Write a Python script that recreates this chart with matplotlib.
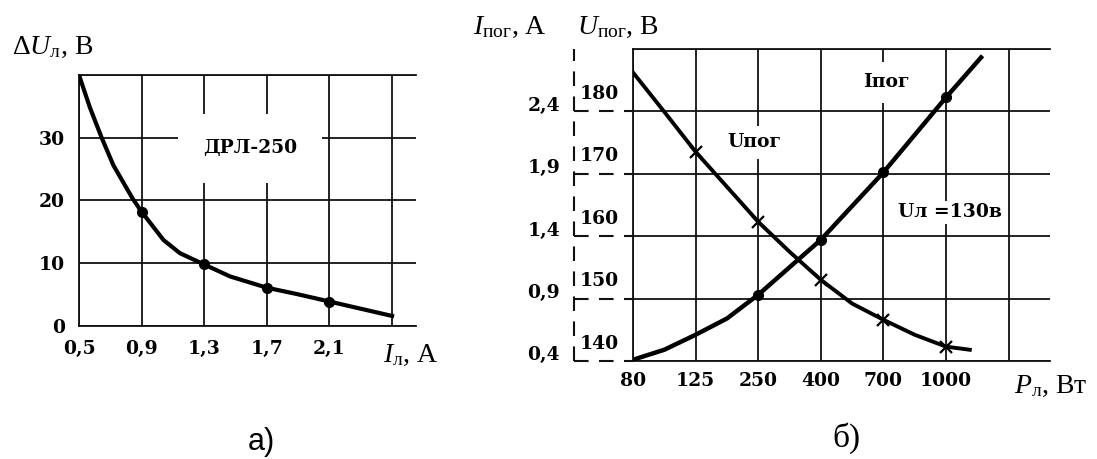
import matplotlib
matplotlib.use('Agg')
import matplotlib.pyplot as plt
import matplotlib.transforms as mtransforms

plt.rcParams['mathtext.fontset'] = 'custom'
plt.rcParams['mathtext.rm'] = 'Liberation Serif'
plt.rcParams['mathtext.it'] = 'Liberation Serif:italic'

# а) ДРЛ-250: падение напряжения на лампе от тока
i_lamp = [0.5, 0.57, 0.645, 0.72, 0.843, 0.9, 1.04, 1.145, 1.3, 1.465, 1.7, 1.89, 2.1, 2.5]
du_lamp = [40, 34.8, 30, 25.6, 20.3, 18.2, 13.7, 11.6, 9.8, 7.9, 6.1, 5.1, 3.9, 1.6]
lamp_dots = [5, 8, 10, 12]

a_xticks = [0.5, 0.9, 1.3, 1.7, 2.1, 2.5]
a_xlabels = ['0,5', '0,9', '1,3', '1,7', '2,1', '']
a_yticks = [0, 10, 20, 30, 40]
a_ylabels = ['0', '10', '20', '30', '']

# б) ток и напряжение сети от мощности лампы (Uл = 130 В)
power_labels = ['80', '125', '250', '400', '700', '1000', '']
i_ticks = [0.4, 0.9, 1.4, 1.9, 2.4]
i_labels = ['0,4', '0,9', '1,4', '1,9', '2,4']
u_ticks = [140, 150, 160, 170, 180]

pos_i = [0, 0.5, 1, 1.5, 2, 3, 4, 5, 5.56]
i_pog = [0.41, 0.49, 0.61, 0.74, 0.93, 1.37, 1.91, 2.51, 2.83]
i_dots = [4, 5, 6, 7]

pos_u = [0, 0.5, 1, 1.5, 2, 2.5, 3, 3.5, 4, 4.5, 5, 5.38]
u_pog = [186.2, 179.9, 173.5, 167.9, 162.3, 157.5, 153.0, 149.2, 146.6, 144.2, 142.3, 141.8]
u_marks = [2, 4, 6, 8, 10]

mono = dict(family='DejaVu Serif', weight='bold', fontsize=13.5)
serif = dict(family='Liberation Serif', fontsize=20)
ink = '#111111'

fig = plt.figure(figsize=(10.97, 4.59), dpi=100)

# ---- а) ----
ax = fig.add_axes([0.0720, 0.2898, 0.3072, 0.5468])
ax.set_xlim(0.5, 2.653)
ax.set_ylim(0, 40)
ax.set_xticks(a_xticks)
ax.set_xticklabels(a_xlabels, **mono)
ax.set_yticks(a_yticks)
ax.set_yticklabels(a_ylabels, **mono)
ax.tick_params(length=0)
ax.tick_params(axis='x', pad=10)
ax.tick_params(axis='y', pad=10)
ax.grid(True, color=ink, lw=1.3)
ax.spines['right'].set_visible(False)
for s in ['left', 'top', 'bottom']:
    ax.spines[s].set_linewidth(1.3)
    ax.spines[s].set_color(ink)
ax.plot(i_lamp, du_lamp, color='black', lw=3, marker='o', ms=7,
        markevery=lamp_dots, zorder=4)
ax.text(1.593, 28.3, 'ДРЛ-250', ha='center', va='center', **mono,
        bbox=dict(boxstyle='square,pad=1.35', fc='white', ec='none'), zorder=3)

fig.text(12 / 1097, 1 - 47 / 459, r'$\Delta U_{\mathrm{л}}$, В', va='center', ha='left', **serif)
fig.text(383 / 1097, 1 - 355 / 459, r'$I_{\mathrm{л}}$, А', va='center', ha='left', **serif)
fig.text(261 / 1097, 1 - 442 / 459, 'а)', va='center', ha='center',
         family='Liberation Sans', fontsize=22)

# ---- б) ----
bx = fig.add_axes([0.5770, 0.2135, 0.3801, 0.6804])
bx.set_xlim(0, 6.66)
bx.set_ylim(0.4, 2.9)
bx.set_xticks(range(len(power_labels)))
bx.set_xticklabels(power_labels, **mono)
bx.set_yticks([0.4, 0.9, 1.4, 1.9, 2.4, 2.9])
bx.set_yticklabels([])
bx.tick_params(length=0)
bx.tick_params(axis='x', pad=8)
bx.grid(True, color=ink, lw=1.3)
bx.spines['right'].set_visible(False)
for s in ['left', 'top', 'bottom']:
    bx.spines[s].set_linewidth(1.3)
    bx.spines[s].set_color(ink)

ux = bx.twinx()
ux.set_ylim(140, 190)
ux.axis('off')

bx.plot(pos_i, i_pog, color='black', lw=3.2, marker='o', ms=7,
        markevery=i_dots, zorder=4)
ux.plot(pos_u, u_pog, color='black', lw=2.8, marker='x', ms=9, mew=1.6,
        markevery=u_marks, zorder=4)

# пунктирная ось слева и выноски к сетке
dash_x = -0.1415
bx.plot([dash_x, dash_x], [0, 1], transform=bx.transAxes, color=ink, lw=1.5,
        ls=(0, (7, 5)), clip_on=False)
blend_i = mtransforms.blended_transform_factory(bx.transAxes, bx.transData)
for v, lab in zip(i_ticks, i_labels):
    bx.plot([dash_x, 0], [v, v], transform=blend_i, color=ink, lw=1.5,
            ls=(0, (7, 5)), clip_on=False)
    bx.annotate(lab, xy=(-0.175, v), xycoords=blend_i, xytext=(0, 4),
                textcoords='offset points', ha='right', va='center', **mono)

blend_u = mtransforms.blended_transform_factory(bx.transAxes, ux.transData)
for v in u_ticks:
    bx.annotate(str(v), xy=(-0.127, v), xycoords=blend_u, xytext=(0, 6),
                textcoords='offset points', ha='left', va='bottom', **mono)

bx.text(4.05, 2.63, 'Iпог', ha='center', va='center', **mono,
        bbox=dict(boxstyle='square,pad=0.6', fc='white', ec='none'), zorder=3)
bx.text(1.94, 2.15, 'Uпог', ha='center', va='center', **mono,
        bbox=dict(boxstyle='square,pad=0.4', fc='white', ec='none'), zorder=3)
bx.text(5.07, 1.59, 'Uл =130в', ha='center', va='center', **mono,
        bbox=dict(boxstyle='square,pad=0.15', fc='white', ec='none'), zorder=3)

fig.text(473 / 1097, 1 - 27 / 459, r'$I_{\mathrm{пог}}$, А', va='center', ha='left', **serif)
fig.text(577 / 1097, 1 - 27 / 459, r'$U_{\mathrm{пог}}$, В', va='center', ha='left', **serif)
fig.text(1014 / 1097, 1 - 386 / 459, r'$P_{\mathrm{л}}$, Вт', va='center', ha='left', **serif)
fig.text(846 / 1097, 1 - 438 / 459, 'б)', va='center', ha='center',
         family='Liberation Serif', fontsize=24)

fig.savefig('out.png', dpi=100, facecolor='white')
